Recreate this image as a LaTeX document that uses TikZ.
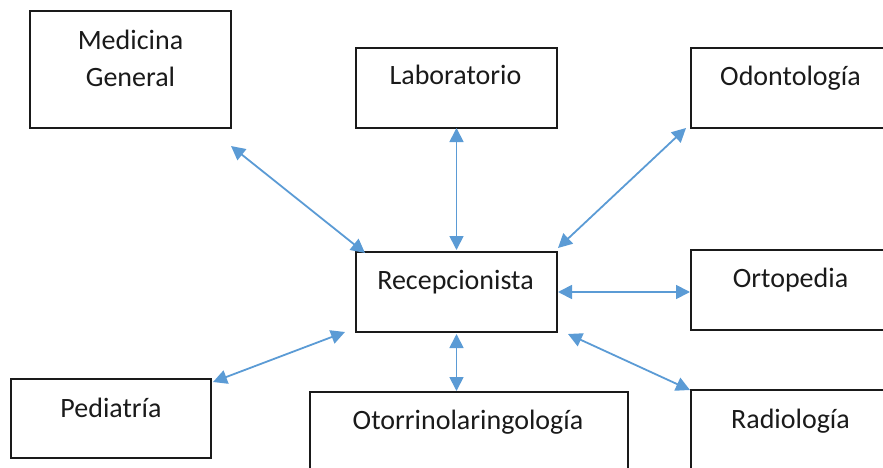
\documentclass[tikz,border=0pt]{standalone}
\usepackage{fontspec}
\setmainfont{Carlito}
\usetikzlibrary{arrows.meta,calc}
\definecolor{linkblue}{HTML}{5B9BD5}
\definecolor{ink}{HTML}{1A1A1A}
\begin{document}
\begin{tikzpicture}[x=1pt,y=-1pt,
  box/.style={draw=ink,line width=1.6pt,inner sep=0pt,outer sep=0pt,
    minimum width=#1,minimum height=80pt},
  box/.default=201pt,
  lbl/.style={anchor=base,align=center,text=ink,inner sep=0pt,
    font=\fontsize{28}{37}\selectfont},
  link/.style={draw=linkblue,line width=1.8pt,
    {Triangle[length=14pt,width=14pt]}-{Triangle[length=14pt,width=14pt]}}]
\useasboundingbox (0,0) rectangle (883,468);
\clip (0,0) rectangle (883,468);

% department boxes
\node[box,minimum height=117pt] (mg) at (130.5,69.5) {};
\node[box] (lab) at (456.5,88) {};
\node[box] (odo) at (791.5,88) {};
\node[box] (rec) at (456.5,292) {};
\node[box] (ort) at (791.5,290) {};
\node[box=200pt,minimum height=79pt] (ped) at (111,418.5) {};
\node[box=318pt] (oto) at (469,432) {};
\node[box] (rad) at (791.5,430) {};

% box titles
\node[lbl] (mgT) at ($(mg.north)+(0,39)$) {Medicina};
\node[lbl] (mgT2) at ($(mg.north)+(0,76)$) {General};
\node[lbl] (labT) at ($(lab.north)+(-1,37)$) {Laboratorio};
\node[lbl] (odoT) at ($(odo.north)+(-1,38)$) {Odontología};
\node[lbl] (recT) at ($(rec.north)+(-1,37)$) {Recepcionista};
\node[lbl] (ortT) at ($(ort.north)+(-1,37)$) {Ortopedia};
\node[lbl] (pedT) at ($(ped.north)+(0,38)$) {Pediatría};
\node[lbl] (otoT) at ($(oto.north)+(-1,37)$) {Otorrinolaringología};
\node[lbl] (radT) at ($(rad.north)+(-1,38)$) {Radiología};

% two-way links to the reception desk
\draw[link] ($(mg.south east)+(0,18)$) -- ($(rec.north west)+(9,1)$);
\draw[link] (lab.south) -- ($(rec.north)+(0,-2)$);
\draw[link] ($(odo.south west)+(-5,0)$) -- ($(rec.north east)+(1,-4)$);
\draw[link] ($(rec.east)+(1,0)$) -- ($(ort.west |- rec.east)+(-1,0)$);
\draw[link] ($(rec.south east)+(11,2)$) -- ($(rad.north west)+(-1,0)$);
\draw[link] ($(rec.south)+(0,2)$) -- ($(rec.south |- oto.north)+(0,-1)$);
\draw[link] ($(ped.north east)+(2,3)$) -- ($(rec.south west)+(-11,0)$);
\end{tikzpicture}
\end{document}
